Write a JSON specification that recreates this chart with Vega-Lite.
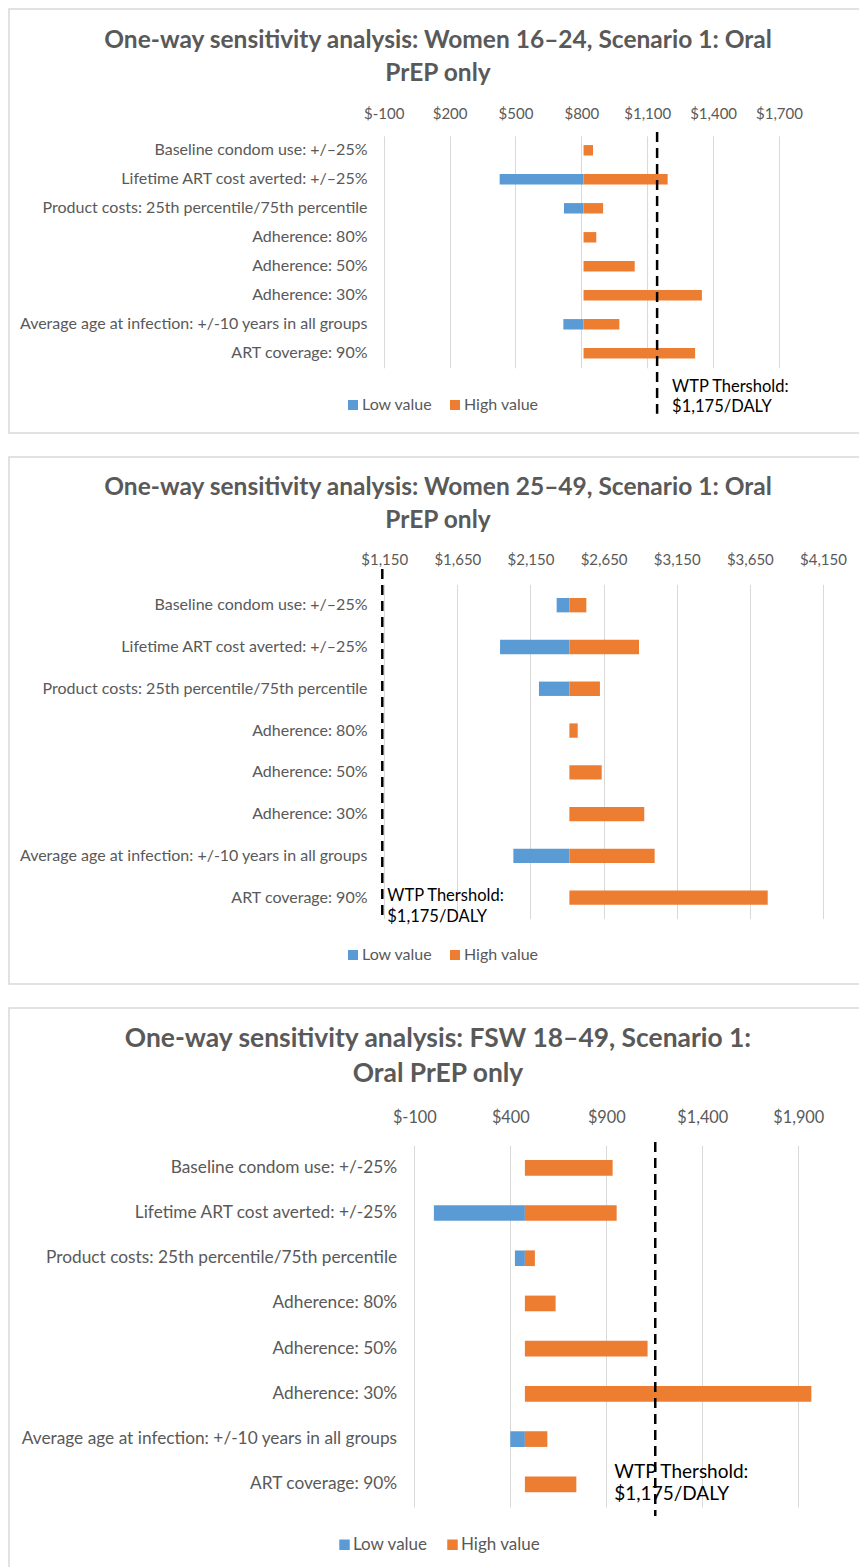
{
  "$schema": "https://vega.github.io/schema/vega-lite/v6.json",
  "background": "white",
  "padding": {"left": 8, "top": 8, "right": 0, "bottom": 0},
  "config": {
    "font": "Lato",
    "view": {"stroke": "#d9d9d9", "strokeWidth": 1.5},
    "concat": {"spacing": 22}
  },
  "resolve": {"scale": {"color": "independent"}, "legend": {"color": "independent"}},
  "datasets": {
    "p1": [
      {"parameter": "Baseline condom use: +/–25%", "series": "High value", "value": 853, "base": 810},
      {"parameter": "Lifetime ART cost averted: +/–25%", "series": "Low value", "value": 428, "base": 810},
      {"parameter": "Lifetime ART cost averted: +/–25%", "series": "High value", "value": 1193, "base": 810},
      {"parameter": "Product costs: 25th percentile/75th percentile", "series": "Low value", "value": 721, "base": 810},
      {"parameter": "Product costs: 25th percentile/75th percentile", "series": "High value", "value": 899, "base": 810},
      {"parameter": "Adherence: 80%", "series": "High value", "value": 868, "base": 810},
      {"parameter": "Adherence: 50%", "series": "High value", "value": 1043, "base": 810},
      {"parameter": "Adherence: 30%", "series": "High value", "value": 1349, "base": 810},
      {"parameter": "Average age at infection: +/-10 years in all groups", "series": "Low value", "value": 718, "base": 810},
      {"parameter": "Average age at infection: +/-10 years in all groups", "series": "High value", "value": 973, "base": 810},
      {"parameter": "ART coverage: 90%", "series": "High value", "value": 1318, "base": 810}
    ],
    "p2": [
      {"parameter": "Baseline condom use: +/–25%", "series": "Low value", "value": 2329, "base": 2416},
      {"parameter": "Baseline condom use: +/–25%", "series": "High value", "value": 2532, "base": 2416},
      {"parameter": "Lifetime ART cost averted: +/–25%", "series": "Low value", "value": 1942, "base": 2416},
      {"parameter": "Lifetime ART cost averted: +/–25%", "series": "High value", "value": 2892, "base": 2416},
      {"parameter": "Product costs: 25th percentile/75th percentile", "series": "Low value", "value": 2208, "base": 2416},
      {"parameter": "Product costs: 25th percentile/75th percentile", "series": "High value", "value": 2625, "base": 2416},
      {"parameter": "Adherence: 80%", "series": "High value", "value": 2473, "base": 2416},
      {"parameter": "Adherence: 50%", "series": "High value", "value": 2637, "base": 2416},
      {"parameter": "Adherence: 30%", "series": "High value", "value": 2928, "base": 2416},
      {"parameter": "Average age at infection: +/-10 years in all groups", "series": "Low value", "value": 2033, "base": 2416},
      {"parameter": "Average age at infection: +/-10 years in all groups", "series": "High value", "value": 2999, "base": 2416},
      {"parameter": "ART coverage: 90%", "series": "High value", "value": 3772, "base": 2416}
    ],
    "p3": [
      {"parameter": "Baseline condom use: +/-25%", "series": "High value", "value": 933, "base": 476},
      {"parameter": "Lifetime ART cost averted: +/-25%", "series": "Low value", "value": 2, "base": 476},
      {"parameter": "Lifetime ART cost averted: +/-25%", "series": "High value", "value": 954, "base": 476},
      {"parameter": "Product costs: 25th percentile/75th percentile", "series": "Low value", "value": 424, "base": 476},
      {"parameter": "Product costs: 25th percentile/75th percentile", "series": "High value", "value": 528, "base": 476},
      {"parameter": "Adherence: 80%", "series": "High value", "value": 636, "base": 476},
      {"parameter": "Adherence: 50%", "series": "High value", "value": 1115, "base": 476},
      {"parameter": "Adherence: 30%", "series": "High value", "value": 1968, "base": 476},
      {"parameter": "Average age at infection: +/-10 years in all groups", "series": "Low value", "value": 400, "base": 476},
      {"parameter": "Average age at infection: +/-10 years in all groups", "series": "High value", "value": 593, "base": 476},
      {"parameter": "ART coverage: 90%", "series": "High value", "value": 744, "base": 476}
    ],
    "t1": [{"threshold": 1145}],
    "t2": [{"threshold": 1137}],
    "t3": [{"threshold": 1155}]
  },
  "vconcat": [
    {
      "width": 858,
      "height": 424,
      "title": {"text": ["One-way sensitivity analysis: Women 16–24, Scenario 1: Oral", "PrEP only"], "font": "Lato", "fontSize": 24.5, "fontWeight": "bold", "color": "#595959", "lineHeight": 33, "offset": -77, "anchor": "middle", "frame": "group"},
      "layer": [
        {
          "data": {"name": "p1"},
          "mark": {"type": "bar"},
          "encoding": {
            "y": {"field": "parameter", "type": "nominal",
              "scale": {"domain": ["Baseline condom use: +/–25%", "Lifetime ART cost averted: +/–25%", "Product costs: 25th percentile/75th percentile", "Adherence: 80%", "Adherence: 50%", "Adherence: 30%", "Average age at infection: +/-10 years in all groups", "ART coverage: 90%"], "range": [126.8, 358.8], "paddingInner": 0.64, "paddingOuter": 0.32},
              "axis": {"orient": "left", "title": null, "domain": false, "ticks": false, "labelPadding": 0, "offset": -358, "labelLimit": 600, "labelFontSize": 16, "labelColor": "#595959", "grid": false}},
            "x": {"field": "value", "type": "quantitative",
              "scale": {"domain": [-100, 1700], "range": [374.7, 770], "nice": false, "zero": false},
              "axis": {"orient": "top", "title": null, "values": [-100, 200, 500, 800, 1100, 1400, 1700], "labelExpr": "'$' + (datum.value < 0 ? '-' + format(-datum.value, ',') : format(datum.value, ','))", "grid": true, "gridColor": "#d9d9d9", "gridWidth": 1, "domain": false, "ticks": false, "labelPadding": 0, "labelBaseline": "middle", "offset": -104.7, "labelFontSize": 15, "labelColor": "#595959", "labelFlush": false, "labelOverlap": false}},
            "x2": {"field": "base"},
            "color": {"field": "series", "type": "nominal",
              "scale": {"domain": ["Low value", "High value"], "range": ["#5B9BD5", "#ED7D31"]},
              "legend": {"orient": "none", "legendX": 336, "legendY": 388, "direction": "horizontal", "title": null, "symbolType": "square", "symbolSize": 100, "symbolStrokeWidth": 0, "labelFontSize": 16, "labelColor": "#595959", "columnPadding": 14, "labelOffset": 1, "padding": 0}}
          }
        },
        {
          "data": {"name": "t1"},
          "mark": {"type": "text", "text": ["WTP Thershold:", "$1,175/DALY"], "align": "left", "baseline": "middle", "dx": 15, "dy": 34, "fontSize": 16.5, "lineHeight": 20, "color": "black"},
          "encoding": {
            "x": {"field": "threshold", "type": "quantitative"},
            "y": {"datum": "ART coverage: 90%", "type": "nominal"}
          }
        },
        {
          "data": {"name": "t1"},
          "mark": {"type": "rule", "color": "black", "strokeWidth": 2.5, "strokeDash": [10, 6]},
          "encoding": {
            "x": {"field": "threshold", "type": "quantitative"},
            "y": {"datum": "Baseline condom use: +/–25%", "type": "nominal", "bandPosition": -1.25},
            "y2": {"datum": "ART coverage: 90%", "bandPosition": 6.3}
          }
        }
      ]
    },
    {
      "width": 858,
      "height": 527,
      "title": {"text": ["One-way sensitivity analysis: Women 25–49, Scenario 1: Oral", "PrEP only"], "font": "Lato", "fontSize": 24.5, "fontWeight": "bold", "color": "#595959", "lineHeight": 33, "offset": -76, "anchor": "middle", "frame": "group"},
      "layer": [
        {
          "data": {"name": "p2"},
          "mark": {"type": "bar"},
          "encoding": {
            "y": {"field": "parameter", "type": "nominal",
              "scale": {"domain": ["Baseline condom use: +/–25%", "Lifetime ART cost averted: +/–25%", "Product costs: 25th percentile/75th percentile", "Adherence: 80%", "Adherence: 50%", "Adherence: 30%", "Average age at infection: +/-10 years in all groups", "ART coverage: 90%"], "range": [127.3, 461.6], "paddingInner": 0.657, "paddingOuter": 0.3285},
              "axis": {"orient": "left", "title": null, "domain": false, "ticks": false, "labelPadding": 0, "offset": -358, "labelLimit": 600, "labelFontSize": 16, "labelColor": "#595959", "grid": false}},
            "x": {"field": "value", "type": "quantitative",
              "scale": {"domain": [1150, 4150], "range": [375.2, 814], "nice": false, "zero": false},
              "axis": {"orient": "top", "title": null, "values": [1150, 1650, 2150, 2650, 3150, 3650, 4150], "labelExpr": "'$' + (datum.value < 0 ? '-' + format(-datum.value, ',') : format(datum.value, ','))", "grid": true, "gridColor": "#d9d9d9", "gridWidth": 1, "domain": false, "ticks": false, "labelPadding": 0, "labelBaseline": "middle", "offset": -102.5, "labelFontSize": 15, "labelColor": "#595959", "labelFlush": false, "labelOverlap": false}},
            "x2": {"field": "base"},
            "color": {"field": "series", "type": "nominal",
              "scale": {"domain": ["Low value", "High value"], "range": ["#5B9BD5", "#ED7D31"]},
              "legend": {"orient": "none", "legendX": 336, "legendY": 490, "direction": "horizontal", "title": null, "symbolType": "square", "symbolSize": 100, "symbolStrokeWidth": 0, "labelFontSize": 16, "labelColor": "#595959", "columnPadding": 14, "labelOffset": 1, "padding": 0}}
          }
        },
        {
          "data": {"name": "t2"},
          "mark": {"type": "text", "text": ["WTP Thershold:", "$1,175/DALY"], "align": "left", "baseline": "middle", "dx": 5, "dy": -2, "fontSize": 16.5, "lineHeight": 21, "color": "black"},
          "encoding": {
            "x": {"field": "threshold", "type": "quantitative"},
            "y": {"datum": "ART coverage: 90%", "type": "nominal"}
          }
        },
        {
          "data": {"name": "t2"},
          "mark": {"type": "rule", "color": "black", "strokeWidth": 2.5, "strokeDash": [10, 6]},
          "encoding": {
            "x": {"field": "threshold", "type": "quantitative"},
            "y": {"datum": "Baseline condom use: +/–25%", "type": "nominal", "bandPosition": -2.02},
            "y2": {"datum": "ART coverage: 90%", "bandPosition": 1.85}
          }
        }
      ]
    },
    {
      "width": 858,
      "height": 564,
      "title": {"text": ["One-way sensitivity analysis: FSW 18–49, Scenario 1:", "Oral PrEP only"], "font": "Lato", "fontSize": 26.4, "fontWeight": "bold", "color": "#595959", "lineHeight": 35, "offset": -79.5, "anchor": "middle", "frame": "group"},
      "layer": [
        {
          "data": {"name": "p3"},
          "mark": {"type": "bar"},
          "encoding": {
            "y": {"field": "parameter", "type": "nominal",
              "scale": {"domain": ["Baseline condom use: +/-25%", "Lifetime ART cost averted: +/-25%", "Product costs: 25th percentile/75th percentile", "Adherence: 80%", "Adherence: 50%", "Adherence: 30%", "Average age at infection: +/-10 years in all groups", "ART coverage: 90%"], "range": [137.2, 498.9], "paddingInner": 0.653, "paddingOuter": 0.3265},
              "axis": {"orient": "left", "title": null, "domain": false, "ticks": false, "labelPadding": 0, "offset": -387.6, "labelLimit": 600, "labelFontSize": 17.3, "labelColor": "#595959", "grid": false}},
            "x": {"field": "value", "type": "quantitative",
              "scale": {"domain": [-100, 1900], "range": [405.3, 789.3], "nice": false, "zero": false},
              "axis": {"orient": "top", "title": null, "values": [-100, 400, 900, 1400, 1900], "labelExpr": "'$' + (datum.value < 0 ? '-' + format(-datum.value, ',') : format(datum.value, ','))", "grid": true, "gridColor": "#d9d9d9", "gridWidth": 1, "domain": false, "ticks": false, "labelPadding": 0, "labelBaseline": "middle", "offset": -109, "labelFontSize": 16.3, "labelColor": "#595959", "labelFlush": false, "labelOverlap": false}},
            "x2": {"field": "base"},
            "color": {"field": "series", "type": "nominal",
              "scale": {"domain": ["Low value", "High value"], "range": ["#5B9BD5", "#ED7D31"]},
              "legend": {"orient": "none", "legendX": 327, "legendY": 528, "direction": "horizontal", "title": null, "symbolType": "square", "symbolSize": 110, "symbolStrokeWidth": 0, "labelFontSize": 17, "labelColor": "#595959", "columnPadding": 16, "labelOffset": 0, "padding": 0}}
          }
        },
        {
          "data": {"name": "t3"},
          "mark": {"type": "text", "text": ["WTP Thershold:", "$1,175/DALY"], "align": "left", "baseline": "middle", "dx": -41, "dy": -12, "fontSize": 19, "lineHeight": 21.5, "color": "black"},
          "encoding": {
            "x": {"field": "threshold", "type": "quantitative"},
            "y": {"datum": "ART coverage: 90%", "type": "nominal"}
          }
        },
        {
          "data": {"name": "t3"},
          "mark": {"type": "rule", "color": "black", "strokeWidth": 2.5, "strokeDash": [10, 6]},
          "encoding": {
            "x": {"field": "threshold", "type": "quantitative"},
            "y": {"datum": "Baseline condom use: +/-25%", "type": "nominal", "bandPosition": -1.15},
            "y2": {"datum": "ART coverage: 90%", "bandPosition": 2.52}
          }
        }
      ]
    }
  ]
}
